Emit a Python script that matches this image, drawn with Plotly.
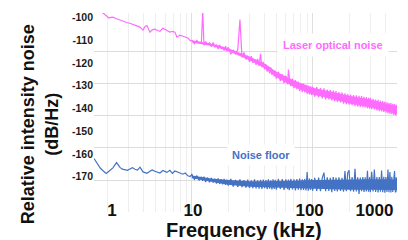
import plotly.graph_objects as go

# ---------------- data ----------------
freq_khz = [
    1.55, 1.65, 1.75, 1.84, 1.95, 2.06, 2.14, 2.22, 2.38, 2.54, 2.66, 2.79, 2.93,
    3.07, 3.22, 3.38, 3.55, 3.72, 3.94, 4.1, 4.25, 4.5, 4.7, 4.95, 5.2, 5.44,
    5.76, 6.0, 6.21, 6.58, 6.9, 7.24, 7.52, 7.96, 8.43, 8.8, 9.27, 9.7,
    10, 10.5, 11, 11.5, 12, 12.3, 12.6, 13, 13.5, 14, 14.5, 15, 15.5, 16, 16.5,
    17, 17.5, 18, 18.5, 19, 19.5,
    20, 21, 22, 23, 24, 25, 26, 27, 28, 29, 30, 31, 32, 33, 34, 35, 36, 37, 38,
    39, 40, 41, 42, 43, 44, 45, 46, 47, 48, 49,
    50, 52, 54, 56, 58, 60, 62, 63, 64, 66, 68, 70, 72, 74, 76, 78, 80, 82, 84,
    86, 88, 90, 92, 94, 96, 98,
    100, 104, 108, 112, 116, 120, 124, 128, 132, 136, 140, 144, 148, 152, 156,
    160, 165, 170, 175, 180, 185, 190, 195,
    200, 206, 212, 218, 224, 230, 236, 242, 248, 254, 260, 266, 272, 278, 284,
    290, 296,
    300, 308, 316, 324, 332, 340, 348, 356, 364, 372, 380, 388, 396, 404, 412,
    420, 428, 436, 444, 452, 460, 468, 476, 484, 492, 500,
]

laser_db = [
    -95.5, -96.8, -97.6, -98.1, -99.4, -100.3, -100.0, -99.9, -100.6, -101.2, -101.6, -102.1, -102.4,
    -102.6, -103.0, -103.4, -103.9, -104.3, -105.6, -104.0, -103.6, -106.5, -105.5, -105.2, -105.8, -106.1,
    -104.8, -105.4, -105.6, -106.5, -106.2, -106.5, -108.7, -107.8, -108.3, -108.6, -109.1, -110.2,
    -110.1, -111.6, -110.2, -111.3, -110.9, -97.0, -112.3, -110.6, -111.9, -111.2, -112.9, -111.0, -113.2, -112.0, -113.9,
    -112.1, -113.6, -113.1, -114.6, -112.7, -114.9,
    -113.1, -116.2, -114.5, -116.0, -114.2, -101.0, -117.6, -115.4, -118.5, -116.9, -119.6, -117.1, -120.0, -118.4, -120.9,
    -118.3, -121.4, -116.0, -122.0, -119.6, -122.9, -120.6, -123.9, -121.5, -124.6, -122.0, -125.3, -123.2, -125.9, -123.4,
    -126.9, -123.9, -128.0, -125.0, -128.9, -125.6, -129.4, -123.0, -126.0, -130.2, -126.9, -131.1, -127.6, -131.6, -128.2,
    -132.4, -128.9, -132.9, -129.1, -133.0, -129.6, -133.6, -130.0, -133.9, -130.3, -134.2,
    -130.4, -134.8, -130.6, -135.2, -131.1, -135.6, -131.2, -136.0, -131.7, -136.1, -131.9, -136.5, -132.2, -136.8, -132.4,
    -137.1, -132.8, -137.4, -133.0, -137.9, -133.4, -138.1, -133.7,
    -138.4, -133.9, -138.6, -134.2, -139.0, -134.3, -139.1, -134.5, -139.3, -134.6, -139.5, -134.9, -139.6, -135.0, -139.9,
    -135.3, -140.1,
    -135.4, -140.3, -135.8, -140.5, -136.1, -140.9, -136.2, -141.2, -136.6, -141.3, -136.8, -141.6, -137.0, -141.9, -137.3,
    -142.1, -137.5, -142.4, -137.7, -142.6, -138.0, -142.8, -138.1, -143.0, -138.4, -143.2,
]

floor_db = [
    -162.0, -164.2, -166.3, -167.4, -168.6, -167.6, -166.9, -166.1, -163.8, -165.9, -166.7, -166.9, -167.2,
    -166.6, -166.0, -166.7, -167.1, -165.8, -167.9, -168.2, -168.5, -167.6, -167.0, -167.6, -168.0, -168.4,
    -167.3, -167.9, -168.1, -167.2, -168.5, -167.5, -167.9, -168.6, -168.9, -168.4, -169.6, -169.9,
    -169.0, -171.2, -169.6, -171.5, -170.1, -171.8, -170.0, -172.3, -170.4, -172.5, -170.5, -172.6, -170.9, -173.0, -170.8,
    -173.1, -171.1, -173.4, -171.0, -173.6, -171.3,
    -173.9, -171.0, -174.3, -171.4, -174.4, -171.2, -174.6, -171.5, -174.8, -171.3, -174.9, -171.6, -175.0, -171.2, -175.1,
    -171.6, -175.2, -171.4, -175.4, -171.3, -175.0, -171.5, -175.5, -171.2, -175.3, -171.6, -175.6, -171.1, -175.4, -171.4,
    -175.7, -171.0, -175.4, -171.1, -175.8, -171.2, -175.5, -171.3, -175.9, -170.9, -175.6, -171.2, -176.0, -171.0, -175.7,
    -170.8, -175.9, -171.1, -175.8, -170.9, -176.0, -168.0, -176.1, -170.8, -175.8, -171.0,
    -176.1, -170.5, -176.2, -170.4, -176.3, -170.6, -168.2, -176.4, -170.3, -176.2, -170.5, -176.8, -170.2, -176.3, -170.4,
    -176.5, -170.3, -176.2, -170.5, -176.6, -167.5, -176.4, -168.3,
    -167.2, -176.4, -170.2, -176.6, -166.5, -176.5, -170.3, -177.6, -170.4, -176.4, -170.1, -176.7, -170.3, -176.5, -167.4,
    -176.6, -170.2,
    -176.8, -167.8, -176.5, -166.9, -176.7, -170.1, -176.9, -170.2, -176.6, -167.3, -176.8, -170.0, -177.0, -170.1, -176.7,
    -166.8, -176.8, -168.0, -176.9, -170.0, -176.7, -170.1, -167.5, -176.9, -170.2, -176.8,
]

# solid core of the noisy bands (upper / lower edge)
band_freq_khz = [10, 15, 20, 30, 40, 50, 70, 100, 150, 200, 300, 500]
laser_core_hi = [-110.1, -111.7, -113.6, -117.2, -120.3, -123.9, -127.8, -130.9, -132.9, -134.4, -136.1, -139.1]
laser_core_lo = [-111.1, -112.7, -114.8, -118.8, -122.3, -126.3, -130.6, -133.9, -136.1, -137.8, -139.5, -142.5]
floor_core_hi = [-169.5, -170.9, -171.5, -172.0, -172.0, -172.0, -171.8, -171.4, -171.2, -171.1, -171.1, -171.2]
floor_core_lo = [-170.7, -172.3, -173.5, -174.4, -174.6, -174.8, -175.0, -175.4, -175.6, -175.7, -175.7, -175.8]

series_names = ["Laser optical noise", "Noise floor"]

x_tick_vals = [2.18, 10.2, 94.4, 325]
x_tick_text = ["1", "10", "100", "1000"]
x_grid_decades = [10, 100]
x_grid_minor = [2, 3, 4, 5, 6, 7, 8, 9, 20, 30, 40, 50, 60, 70, 80, 90, 200, 300, 400]

y_tick_vals = [-100, -110, -120, -130, -140, -150, -160, -170]
y_tick_text = ["-100", "-110", "-120", "-130", "-140", "-150", "-160", "-170"]
y_grid_vals = [-114.8, -128.9, -143.2, -157.3, -171.5]

x_title = "Frequency (kHz)"
y_title = "Relative intensity noise<br>(dB/Hz)"

if not (len(freq_khz) == len(laser_db) == len(floor_db)):
    raise SystemExit(f"length mismatch {len(freq_khz)} {len(laser_db)} {len(floor_db)}")

# ---------------- styling ----------------
PINK = "#FF6BFF"
BLUE = "#4472C4"
FONT = "Liberation Sans, Arial, Helvetica, sans-serif"
X_RANGE = [0.19, 2.698]
Y_RANGE = [-185.5, -98.1]

fig = go.Figure()
for lo, hi, col in [(laser_core_lo, laser_core_hi, PINK), (floor_core_lo, floor_core_hi, BLUE)]:
    fig.add_trace(go.Scatter(x=band_freq_khz, y=lo, mode="lines", line=dict(width=0, color=col),
                             showlegend=False, hoverinfo="skip"))
    fig.add_trace(go.Scatter(x=band_freq_khz, y=hi, mode="lines", line=dict(width=0, color=col),
                             fill="tonexty", fillcolor=col, showlegend=False, hoverinfo="skip"))
fig.add_trace(go.Scatter(x=freq_khz, y=laser_db, mode="lines", name=series_names[0],
                         line=dict(color=PINK, width=1.2), showlegend=False))
fig.add_trace(go.Scatter(x=freq_khz, y=floor_db, mode="lines", name=series_names[1],
                         line=dict(color=BLUE, width=1.2), showlegend=False))
# carrier for the label axis
fig.add_trace(go.Scatter(x=x_tick_vals, y=[None] * len(x_tick_vals), xaxis="x2",
                         mode="lines", showlegend=False, hoverinfo="skip"))

fig.update_layout(
    width=408, height=240,
    margin=dict(l=94, r=11, t=13, b=28, autoexpand=False),
    paper_bgcolor="white", plot_bgcolor="white",
    font=dict(family=FONT, color="#1a1a1a"),
    xaxis=dict(type="log", range=X_RANGE, tickmode="array", tickvals=x_grid_decades,
               showticklabels=False, ticks="", showline=False, zeroline=False, automargin=False,
               showgrid=True, gridcolor="#dedede", gridwidth=1,
               minor=dict(tickmode="array", tickvals=x_grid_minor, showgrid=True,
                          gridcolor="#eeeeee", gridwidth=1, ticks="")),
    xaxis2=dict(type="log", range=X_RANGE, overlaying="x", anchor="free", position=0.07,
                side="bottom", tickmode="array", tickvals=x_tick_vals, ticktext=x_tick_text,
                showgrid=False, showline=False, zeroline=False, ticks="", automargin=False,
                tickfont=dict(size=17, weight="bold", color="#111111", family=FONT)),
    yaxis=dict(range=Y_RANGE, tickmode="array", tickvals=y_tick_vals, ticktext=y_tick_text,
               showgrid=False, zeroline=False, showline=False, ticks="", automargin=False,
               tickfont=dict(size=10.5, weight="bold", color="#1a1a1a", family=FONT),
               minor=dict(tickmode="array", tickvals=y_grid_vals, showgrid=True,
                          gridcolor="#dcdcdc", gridwidth=1.3, ticks="")),
)

fig.add_annotation(text=y_title, textangle=-90, xref="paper", yref="paper",
                   x=-0.181, y=0.442, xanchor="center", yanchor="middle", showarrow=False,
                   font=dict(size=18, weight="bold", color="#111111", family=FONT))
fig.add_annotation(text=x_title, xref="paper", yref="paper",
                   x=0.496, y=-0.0905, xanchor="center", yanchor="middle", showarrow=False,
                   font=dict(size=20, weight="bold", color="#111111", family=FONT))
fig.add_annotation(text=series_names[0], xref="paper", yref="paper",
                   x=0.7875, y=0.839, xanchor="center", yanchor="middle", showarrow=False,
                   bgcolor="white", borderpad=5,
                   font=dict(size=11, weight="bold", color=PINK, family=FONT))
fig.add_annotation(text=series_names[1], xref="paper", yref="paper",
                   x=0.552, y=0.286, xanchor="center", yanchor="middle", showarrow=False,
                   bgcolor="white", borderpad=4,
                   font=dict(size=11, weight="bold", color=BLUE, family=FONT))

fig.write_html("out.html", config={"displayModeBar": False},
               post_script="document.body.style.margin='0px';")
